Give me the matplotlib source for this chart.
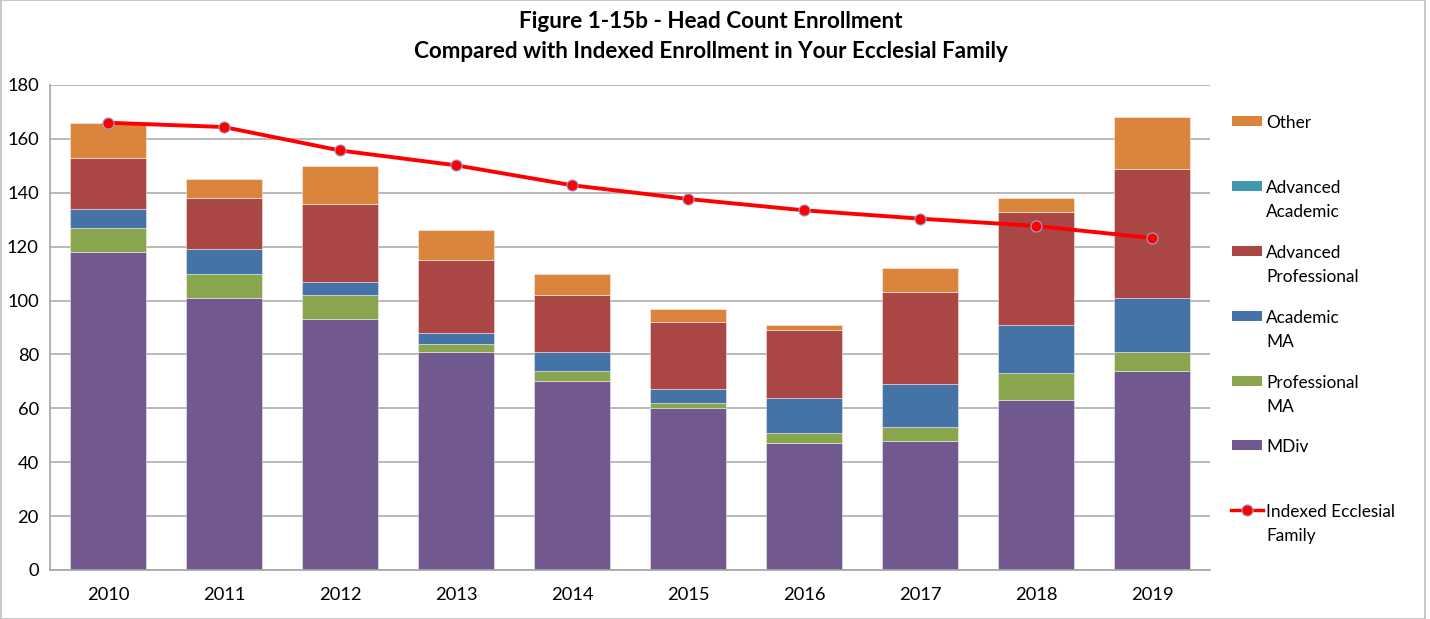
import matplotlib
matplotlib.use("Agg")
import matplotlib.pyplot as plt
from matplotlib.patches import Rectangle
from matplotlib.lines import Line2D
import numpy as np

plt.rcParams['font.family'] = ['Lato', 'DejaVu Sans']

years = ['2010', '2011', '2012', '2013', '2014', '2015', '2016', '2017', '2018', '2019']
mdiv = [118, 101, 93, 81, 70, 60, 47, 48, 63, 74]
prof_ma = [9, 9, 9, 3, 4, 2, 4, 5, 10, 7]
acad_ma = [7, 9, 5, 4, 7, 5, 13, 16, 18, 20]
adv_prof = [19, 19, 29, 27, 21, 25, 25, 34, 42, 48]
adv_acad = [0, 0, 0, 0, 0, 0, 0, 0, 0, 0]
other = [13, 7, 14, 11, 8, 5, 2, 9, 5, 19]
indexed = [166.0, 164.4, 155.7, 150.2, 142.8, 137.7, 133.5, 130.4, 127.7, 123.2]

series = [
    ('MDiv', mdiv, '#71588F'),
    ('Professional\nMA', prof_ma, '#89A54E'),
    ('Academic\nMA', acad_ma, '#4572A7'),
    ('Advanced\nProfessional', adv_prof, '#AA4643'),
    ('Advanced\nAcademic', adv_acad, '#4198AF'),
    ('Other', other, '#DB843D'),
]

fig = plt.figure(figsize=(14.3, 6.19), dpi=100)
ax = fig.add_axes([50/1430, 49/619, 1160/1430, 485/619])

x = np.arange(len(years))
bottom = np.zeros(len(years))
for name, vals, col in series:
    v = np.array(vals, dtype=float)
    ax.bar(x, v, width=0.65, bottom=bottom, color=col, edgecolor=(1, 1, 1, 0.5),
           linewidth=0.6, zorder=2)
    bottom += v

ax.plot(x, indexed, color='#FF0000', linewidth=2.8, marker='o', markersize=8,
        markerfacecolor='#FF0000', markeredgecolor='#8EA9DB', markeredgewidth=0.8, zorder=3)

ax.set_xlim(-0.5, len(years) - 0.5)
ax.set_ylim(0, 180)
ax.set_yticks(np.arange(0, 181, 20))
ax.set_xticks(x)
ax.set_xticklabels(years)
ax.tick_params(axis='both', length=0, labelsize=13.2, colors='black')
ax.tick_params(axis='x', pad=12)
ax.tick_params(axis='y', pad=8)
ax.yaxis.grid(True, color='#B3B3B3', linewidth=1.3, zorder=0)
ax.set_axisbelow(True)
for s in ['top', 'right']:
    ax.spines[s].set_visible(False)
ax.spines['left'].set_color('#A6A6A6')
ax.spines['bottom'].set_color('#A6A6A6')
ax.spines['left'].set_linewidth(1.2)
ax.spines['bottom'].set_linewidth(1.2)

fig.text(711/1430, 1 - 21/619, 'Figure 1-15b - Head Count Enrollment', ha='center', va='center',
         fontsize=16.2, fontweight='bold')
fig.text(711/1430, 1 - 51/619, 'Compared with Indexed Enrollment in Your Ecclesial Family', ha='center',
         va='center', fontsize=16.2, fontweight='bold')

# legend (manual)
legend_items = [
    ('Other', '#DB843D', 121),
    ('Advanced\nAcademic', '#4198AF', 186),
    ('Advanced\nProfessional', '#AA4643', 251),
    ('Academic\nMA', '#4572A7', 316),
    ('Professional\nMA', '#89A54E', 381),
    ('MDiv', '#71588F', 445),
]
for label, col, ypix in legend_items:
    fig.patches.append(Rectangle((1232/1430, 1 - (ypix + 5)/619), 30/1430, 10/619,
                                 transform=fig.transFigure, facecolor=col, edgecolor='none'))
    fig.text(1266/1430, 1 - (ypix - 6)/619, label, ha='left', va='top', fontsize=12.4,
             linespacing=1.58)
ly = 1 - 510/619
fig.lines.append(Line2D([1231/1430, 1263/1430], [ly, ly], transform=fig.transFigure,
                        color='#FF0000', linewidth=2.5))
fig.lines.append(Line2D([1247/1430], [ly], transform=fig.transFigure, marker='o', markersize=8,
                        markerfacecolor='#FF0000', markeredgecolor='#8EA9DB', markeredgewidth=0.8))
fig.text(1266/1430, 1 - 504/619, 'Indexed Ecclesial\nFamily', ha='left', va='top', fontsize=12.4,
         linespacing=1.58)

# outer border
fig.patches.append(Rectangle((0.5/1430, 0), 1 - 6/1430, 1, transform=fig.transFigure,
                             facecolor='none', edgecolor='#BFBFBF', linewidth=1.2))

fig.savefig('out.png', dpi=100)
